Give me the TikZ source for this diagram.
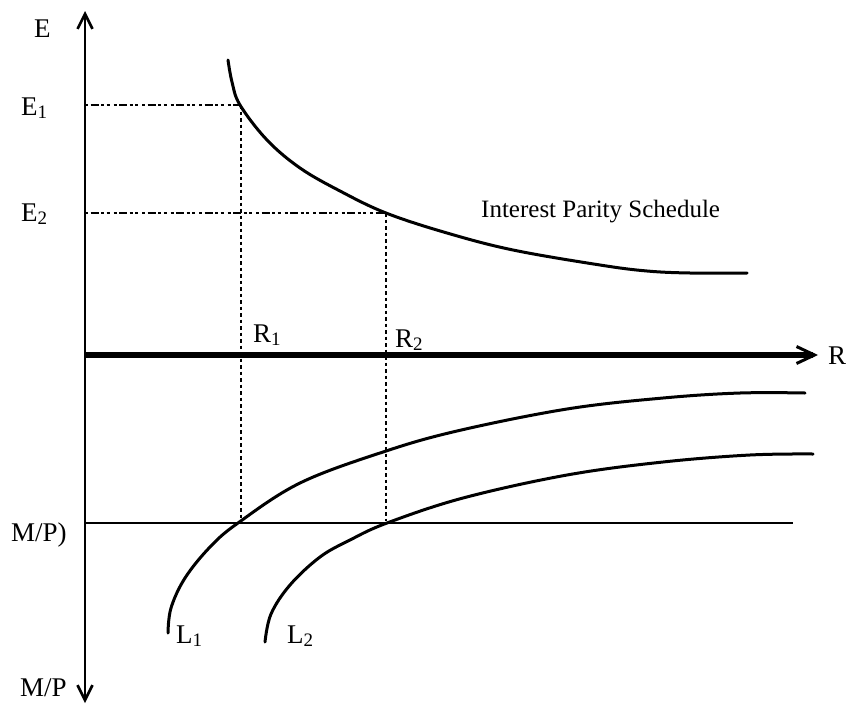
\documentclass[tikz,border=0pt]{standalone}
\usepackage{fontspec}
\setmainfont{Liberation Serif}
\usetikzlibrary{arrows.meta}
\newcommand{\lowsub}[1]{\raisebox{-0.28ex}{\fontsize{19}{19}\selectfont #1}}
\tikzset{
  lbl/.style={inner sep=0pt, anchor=base west, font=\fontsize{27}{30}\selectfont},
  ipslbl/.style={inner sep=0pt, anchor=base west, font=\fontsize{25}{28}\selectfont},
  axis/.style={line width=2.6pt, -{Straight Barb[length=15pt,width=15pt,line width=2.6pt]}},
  raxis/.style={line width=6.5pt, -{Straight Barb[length=18pt,width=17pt,line width=3pt]}},
  curve/.style={line width=3pt, line join=round, line cap=round},
  hguide/.style={line width=2.8pt, dash pattern=on 3pt off 2.5pt on 8pt off 2.5pt on 3pt off 2.5pt on 3pt off 4pt},
  vguide/.style={line width=2.8pt, dash pattern=on 3.5pt off 3pt},
  mline/.style={line width=2.8pt}
}
\begin{document}
\begin{tikzpicture}[x=1pt,y=-1pt]
\useasboundingbox (0,0) rectangle (853,704);
% axis anchors
\coordinate (O) at (85,355);
\coordinate (Etop) at (85,11);
\coordinate (MPbot) at (85,703);
\coordinate (Rend) at (818,355);
\coordinate (E1a) at (85,105);
\coordinate (E1b) at (241,105);
\coordinate (E2a) at (85,213);
\coordinate (E2b) at (386,213);
\coordinate (R1low) at (241,521);
\coordinate (R2low) at (386,521);
\coordinate (Ma) at (85,523);
\coordinate (Mb) at (793,523);
% guides
\draw[hguide] (E1a) -- (E1b);
\draw[hguide] (E2a) -- (E2b);
\draw[vguide] (E1b) -- (R1low);
\draw[vguide] (E2b) -- (R2low);
\draw[mline] (Ma) -- (Mb);
% axes
\draw[axis] (O) -- (Etop);
\draw[axis] (O) -- (MPbot);
\draw[raxis] (O) -- (Rend);
% interest parity schedule
\draw[curve] plot[smooth, tension=0.6] coordinates {(228,60) (232,82) (240,105) (267,140) (300,168) (340,191) (386,213) (447,233) (513,250) (600,265) (647,271) (690,273) (747,273)};
% L1
\draw[curve] plot[smooth, tension=0.6] coordinates {(168,633) (171,608) (185,578) (210,547) (238,523) (300,483) (383,452) (457,431) (567,409) (663,398) (740,393) (805,393)};
% L2
\draw[curve] plot[smooth, tension=0.6] coordinates {(265,642) (271,614) (290,585) (320,557) (350,540) (387,523) (463,498) (567,475) (663,462) (750,455) (813,454)};
% labels
\node[lbl] (Elab) at (34,37) {E};
\node[lbl] (E1lab) at (21,115) {E\lowsub{1}};
\node[lbl] (E2lab) at (21,221) {E\lowsub{2}};
\node[lbl] (Rlab) at (828,364) {R};
\node[lbl] (R1lab) at (253,342) {R\lowsub{1}};
\node[lbl] (R2lab) at (395,347) {R\lowsub{2}};
\node[ipslbl] (IPS) at (481,217) {Interest Parity Schedule};
\node[lbl] (MPc) at (11,541) {M/P)};
\node[lbl] (MPlab) at (20,696) {M/P};
\node[lbl] (L1lab) at (176,643) {L\lowsub{1}};
\node[lbl] (L2lab) at (287,643) {L\lowsub{2}};
\end{tikzpicture}
\end{document}
